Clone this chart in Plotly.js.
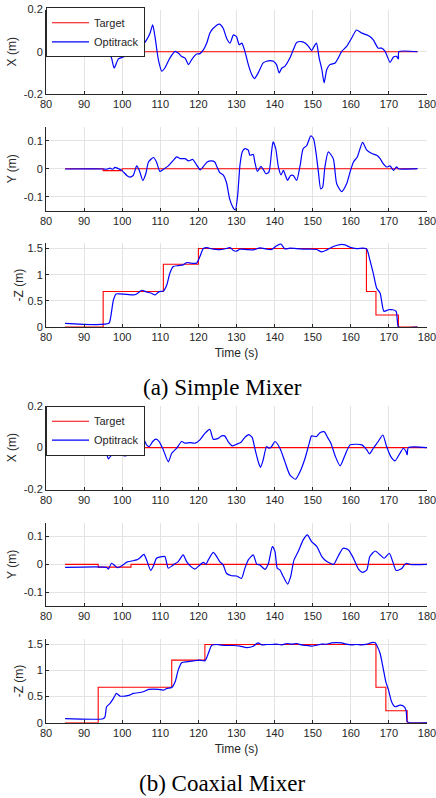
<!DOCTYPE html>
<html>
<head>
<meta charset="utf-8">
<script src="https://cdn.plot.ly/plotly-3.0.1.min.js"></script>
<style>html,body{margin:0;padding:0;background:#fff;}#chart{width:436px;height:798px;}</style>
</head>
<body>
<div id="chart"></div>
<script>
// ---------- (a) Simple Mixer ----------
const tgtXA_t = [85, 95, 100, 177.5];
const tgtXA   = [0, -0.005, 0, 0];
const optXA_t = [85, 95.0, 96.4, 97.2, 97.9, 99.0, 100.3, 101.6, 102.9, 103.6, 104.2, 105.1, 106.4, 107.3, 108.0, 108.6, 109.5, 110.4, 111.2, 112.5, 113.9, 114.7, 115.6, 116.5, 117.4, 118.2, 119.5, 120.4, 121.3, 122.2, 123.0, 123.9, 125.5, 126.5, 127.4, 128.3, 129.2, 130.0, 130.7, 131.4, 132.2, 133.1, 134.0, 134.7, 135.7, 137.0, 137.9, 138.8, 139.7, 140.5, 141.2, 141.9, 142.7, 144.0, 144.9, 145.8, 147.1, 148.0, 148.9, 149.7, 150.6, 151.0, 151.7, 152.4, 153.0, 153.7, 154.5, 155.9, 156.7, 157.6, 158.9, 160.2, 161.5, 162.9, 164.2, 165.0, 165.9, 167.2, 168.1, 169.0, 170.3, 171.2, 172.0, 172.5, 172.6, 177.5];
const optXA   = [-0.002, -0.002, -0.003, -0.030, -0.077, -0.034, -0.025, -0.009, 0.009, 0.025, 0.016, 0.025, 0.056, 0.088, 0.127, 0.072, -0.038, -0.092, -0.077, -0.030, 0.002, -0.006, -0.022, -0.030, -0.061, -0.038, -0.011, -0.009, 0.009, 0.041, 0.088, 0.111, 0.131, 0.111, 0.064, 0.041, 0.080, 0.072, 0.033, 0.041, 0.002, -0.061, -0.108, -0.127, -0.100, -0.053, -0.045, -0.042, -0.045, -0.061, -0.100, -0.077, -0.069, -0.030, 0.009, 0.044, 0.048, 0.041, 0.025, 0.006, 0.033, 0.041, -0.030, -0.084, -0.147, -0.084, -0.061, -0.053, -0.030, 0.002, 0.025, 0.064, 0.103, 0.088, 0.080, 0.072, 0.056, 0.017, 0.017, 0.002, -0.050, -0.025, -0.022, -0.034, 0.000, 0.000];

const tgtYA_t = [85, 95, 100, 177.5];
const tgtYA   = [0, -0.007, 0, 0];
const optYA_t = [85, 95.0, 95.9, 96.8, 97.5, 98.1, 99.0, 99.9, 101.2, 102.0, 102.9, 103.8, 104.5, 105.4, 106.2, 106.9, 108.2, 109.0, 109.9, 110.8, 112.1, 113.4, 114.3, 115.2, 116.5, 117.4, 118.5, 119.5, 120.5, 121.2, 122.3, 123.4, 124.3, 124.9, 125.6, 126.5, 127.4, 128.2, 129.1, 129.7, 130.3, 130.9, 131.5, 132.2, 133.1, 133.5, 134.4, 134.8, 135.5, 136.4, 137.0, 137.7, 138.5, 139.2, 139.6, 140.3, 141.0, 141.7, 142.3, 143.0, 143.4, 144.2, 144.9, 145.8, 146.7, 147.5, 148.4, 149.5, 150.2, 150.9, 151.5, 152.1, 152.6, 153.2, 154.1, 155.4, 156.3, 157.6, 158.9, 159.8, 160.7, 161.7, 163.1, 164.2, 165.5, 166.8, 167.7, 168.5, 169.4, 170.3, 171.2, 172.0, 172.5, 177.5];
const optYA   = [-0.001, -0.001, -0.002, 0.002, -0.002, 0.005, 0.000, -0.006, -0.024, -0.030, -0.024, 0.010, -0.006, -0.042, -0.018, 0.024, 0.040, 0.024, -0.010, -0.002, 0.010, 0.030, 0.042, 0.036, 0.036, 0.028, 0.033, 0.014, -0.004, 0.006, 0.024, 0.028, 0.024, 0.006, -0.014, -0.022, -0.051, -0.108, -0.139, -0.148, -0.096, 0.012, 0.060, 0.072, 0.066, 0.048, 0.051, 0.024, -0.010, 0.008, -0.002, -0.018, -0.012, 0.060, 0.096, 0.072, 0.006, -0.022, -0.006, -0.030, -0.042, -0.024, -0.024, -0.042, 0.012, 0.072, 0.082, 0.117, 0.108, 0.054, -0.012, -0.072, -0.066, 0.006, 0.060, 0.036, -0.054, -0.082, -0.054, -0.012, 0.024, 0.042, 0.094, 0.066, 0.054, 0.048, 0.036, 0.018, 0.006, 0.010, -0.006, 0.007, 0.000, 0.000];

const tgtZA_t = [85, 95, 110.8, 120, 164.1, 166.6, 172.5, 177.5];
const tgtZA   = [0, 0.68, 1.2, 1.5, 0.68, 0.23, 0, 0];
const optZA_t = [85, 96.5, 97.0, 97.7, 98.4, 99.4, 101.2, 102.9, 103.8, 105.1, 106.4, 107.7, 108.6, 109.7, 110.8, 111.7, 112.5, 113.4, 114.7, 116.0, 116.9, 118.2, 119.5, 120.4, 121.3, 122.2, 123.9, 125.7, 127.4, 128.3, 129.2, 130.0, 130.9, 132.7, 134.4, 136.2, 137.9, 139.2, 140.5, 141.6, 142.7, 144.0, 146.7, 149.3, 151.0, 152.4, 153.7, 155.4, 157.2, 158.5, 159.8, 161.5, 163.3, 164.2, 165.0, 165.9, 166.8, 167.7, 168.7, 169.9, 171.0, 171.9, 172.2, 172.5, 177.5];
const optZA   = [0.07, 0.07, 0.2, 0.517, 0.632, 0.632, 0.625, 0.613, 0.632, 0.702, 0.670, 0.645, 0.613, 0.676, 0.689, 0.804, 1.027, 1.155, 1.174, 1.187, 1.232, 1.219, 1.219, 1.347, 1.500, 1.519, 1.487, 1.481, 1.500, 1.519, 1.461, 1.449, 1.487, 1.481, 1.474, 1.512, 1.487, 1.481, 1.551, 1.589, 1.493, 1.506, 1.493, 1.487, 1.481, 1.436, 1.474, 1.538, 1.576, 1.570, 1.525, 1.500, 1.506, 1.487, 1.283, 1.027, 0.740, 0.645, 0.30, 0.33, 0.33, 0.30, 0.13, 0, 0];

// ---------- (b) Coaxial Mixer ----------
const tgtXB_t = [85, 93.7, 102.0, 180];
const tgtXB   = [0, -0.008, 0, 0];
const optXB_t = [85, 94.2, 95.0, 95.7, 96.4, 97.2, 98.1, 99.0, 99.9, 100.7, 101.6, 102.3, 102.9, 103.8, 104.7, 105.7, 106.4, 107.1, 108.0, 108.9, 109.7, 110.8, 112.1, 113.0, 114.3, 115.6, 116.5, 117.8, 119.1, 120.4, 121.7, 123.0, 123.9, 125.2, 126.1, 126.9, 127.8, 128.9, 130.0, 131.1, 132.2, 133.2, 134.1, 134.8, 135.7, 136.3, 137.0, 137.9, 138.6, 139.2, 140.1, 141.4, 142.7, 144.0, 145.5, 146.7, 148.0, 149.1, 149.7, 150.9, 151.9, 153.0, 153.9, 154.8, 155.9, 157.2, 158.5, 159.8, 161.5, 162.9, 164.2, 164.9, 165.9, 167.2, 168.4, 169.4, 170.5, 171.6, 172.9, 173.8, 174.5, 174.8, 175.1, 180];
const optXB   = [-0.003, -0.005, -0.008, -0.019, -0.054, -0.035, -0.027, -0.021, -0.035, -0.040, -0.035, -0.024, -0.003, 0.016, 0.024, 0.037, 0.013, 0.005, 0.029, 0.040, 0.029, -0.011, -0.068, -0.027, -0.003, 0.029, 0.021, 0.024, 0.021, 0.037, 0.068, 0.087, 0.040, 0.044, 0.056, 0.056, 0.029, 0.008, 0.016, 0.024, 0.049, 0.062, 0.049, -0.003, -0.067, -0.094, -0.059, 0.005, -0.003, 0.005, 0.029, -0.003, -0.067, -0.130, -0.151, -0.114, -0.051, 0.021, 0.056, 0.052, 0.071, 0.076, 0.049, 0.020, -0.040, -0.087, -0.035, 0.013, 0.016, 0.013, -0.011, -0.030, -0.003, 0.029, 0.060, 0.005, -0.043, -0.063, -0.027, -0.003, -0.019, -0.035, 0.000, 0.000];

const tgtYB_t = [85, 93.7, 102.3, 180];
const tgtYB   = [0, -0.01, 0, 0];
const optYB_t = [85, 95.9, 96.4, 97.2, 98.1, 98.7, 99.9, 101.2, 102.5, 103.8, 104.7, 105.7, 106.4, 107.5, 108.3, 109.0, 110.4, 111.2, 112.1, 113.4, 114.7, 116.0, 116.9, 118.2, 119.1, 120.4, 121.3, 122.0, 122.6, 123.9, 124.8, 125.6, 126.5, 127.4, 128.7, 130.0, 131.3, 132.2, 133.1, 134.4, 135.3, 136.1, 137.5, 138.4, 139.4, 140.1, 140.7, 141.4, 142.1, 143.4, 144.2, 145.1, 146.2, 147.5, 148.6, 149.7, 151.1, 152.4, 153.7, 154.6, 155.5, 156.7, 158.0, 159.4, 160.7, 162.0, 163.1, 164.2, 165.0, 166.4, 167.7, 168.8, 170.1, 171.0, 171.9, 173.3, 174.2, 174.7, 175.5, 180];
const optYB   = [-0.011, -0.011, -0.017, 0.004, -0.005, -0.012, -0.005, 0.008, 0.012, 0.016, 0.024, 0.036, 0.016, -0.022, -0.002, 0.022, 0.028, 0.028, -0.014, -0.002, 0.010, 0.034, 0.010, -0.010, -0.017, -0.002, 0.007, 0.000, 0.016, 0.043, 0.028, 0.010, -0.002, -0.033, -0.041, -0.042, -0.051, -0.014, 0.016, 0.034, 0.001, -0.002, -0.018, 0.004, 0.064, 0.046, -0.014, -0.020, -0.039, -0.071, -0.045, 0.016, 0.046, 0.088, 0.106, 0.082, 0.064, 0.028, 0.010, 0.004, 0.000, 0.030, 0.058, 0.052, 0.022, -0.017, -0.029, -0.020, 0.028, 0.048, 0.034, 0.022, 0.040, 0.010, -0.022, -0.016, 0.000, 0.004, 0.000, 0.000];

const tgtZB_t = [85, 93.7, 113.0, 121.7, 166.6, 169.2, 174.8, 180];
const tgtZB   = [0, 0.68, 1.2, 1.5, 0.68, 0.23, 0, 0];
const optZB_t = [85, 95.0, 95.5, 95.9, 96.8, 97.7, 98.5, 99.4, 100.7, 102.0, 102.9, 104.2, 105.5, 106.9, 108.2, 109.5, 110.8, 111.7, 113.0, 113.9, 114.7, 115.6, 116.9, 118.7, 120.4, 121.7, 122.6, 123.5, 124.8, 126.1, 127.4, 129.2, 130.9, 132.7, 134.4, 135.3, 135.7, 136.6, 137.9, 139.2, 140.5, 141.9, 143.2, 144.5, 145.8, 147.1, 148.4, 149.7, 151.0, 152.4, 153.7, 155.0, 156.3, 157.6, 158.9, 160.2, 161.5, 162.9, 164.2, 165.5, 166.4, 166.8, 167.7, 168.5, 169.2, 169.9, 170.7, 171.6, 172.9, 173.8, 174.5, 174.8, 175.4, 180];
const optZB   = [0.077, 0.077, 0.115, 0.306, 0.370, 0.466, 0.562, 0.511, 0.511, 0.530, 0.562, 0.574, 0.593, 0.638, 0.645, 0.638, 0.625, 0.657, 0.676, 0.785, 1.008, 1.149, 1.168, 1.187, 1.200, 1.187, 1.327, 1.487, 1.500, 1.487, 1.481, 1.481, 1.468, 1.442, 1.468, 1.519, 1.532, 1.493, 1.500, 1.500, 1.506, 1.493, 1.519, 1.506, 1.519, 1.493, 1.481, 1.468, 1.487, 1.506, 1.506, 1.532, 1.538, 1.532, 1.506, 1.493, 1.500, 1.493, 1.506, 1.538, 1.532, 1.487, 1.327, 1.040, 0.785, 0.625, 0.402, 0.306, 0.338, 0.319, 0.242, 0.019, 0.000, 0.000];

// ---------- labels / ticks ----------
const seriesNames = ['Target', 'Optitrack'];
const yTitles = ['X (m)', 'Y (m)', '-Z (m)', 'X (m)', 'Y (m)', '-Z (m)'];
const xTitle = 'Time (s)';
const captions = ['(a) Simple Mixer', '(b) Coaxial Mixer'];
const xTickVals = [80, 90, 100, 110, 120, 130, 140, 150, 160, 170, 180];
const xyTickVals = [-0.2, 0, 0.2];
const xyTickText = ['-0.2', '0', '0.2'];
const yyTickVals = [-0.1, 0, 0.1];
const yyTickText = ['-0.1', '0', '0.1'];
const zTickVals = [0, 0.5, 1, 1.5];
const zTickText = ['0', '0.5', '1', '1.5'];

// ---------- build ----------
const RED = '#ff0000', BLUE = '#0000ff';
const panels = [
  {tt: tgtXA_t, tv: tgtXA, ot: optXA_t, ov: optXA, leg: 'legend'},
  {tt: tgtYA_t, tv: tgtYA, ot: optYA_t, ov: optYA},
  {tt: tgtZA_t, tv: tgtZA, ot: optZA_t, ov: optZA},
  {tt: tgtXB_t, tv: tgtXB, ot: optXB_t, ov: optXB, leg: 'legend2'},
  {tt: tgtYB_t, tv: tgtYB, ot: optYB_t, ov: optYB},
  {tt: tgtZB_t, tv: tgtZB, ot: optZB_t, ov: optZB}
];
const traces = [];
panels.forEach((p, i) => {
  const sfx = i === 0 ? '' : String(i + 1);
  const show = !!p.leg;
  traces.push({x: p.tt, y: p.tv, type: 'scatter', mode: 'lines', name: seriesNames[0],
    line: {color: RED, width: 1.1, shape: 'hv'}, xaxis: 'x' + sfx, yaxis: 'y' + sfx,
    showlegend: show, legend: p.leg || 'legend', hoverinfo: 'skip'});
  traces.push({x: p.ot, y: p.ov, type: 'scatter', mode: 'lines', name: seriesNames[1],
    line: {color: BLUE, width: 1.2, shape: 'spline', smoothing: 0.6}, xaxis: 'x' + sfx, yaxis: 'y' + sfx,
    showlegend: show, legend: p.leg || 'legend', hoverinfo: 'skip'});
});

const H = 798;
const pix = (top, bottom) => [1 - bottom / H, 1 - top / H];
const yDomains = [pix(9.5, 94), pix(126.7, 210.7), pix(243.3, 327), pix(405.7, 489.5), pix(522.7, 606), pix(639.3, 722.7)];
const tickFont = {family: 'Liberation Sans, Arial, sans-serif', size: 11, color: '#262626'};
const titleFont = {family: 'Liberation Sans, Arial, sans-serif', size: 12, color: '#262626'};
const axisBase = {
  showline: true, linecolor: '#262626', linewidth: 1, mirror: false,
  ticks: 'inside', ticklen: 3, tickwidth: 1, tickcolor: '#262626',
  showgrid: true, gridcolor: '#e3e3e3', gridwidth: 1, zeroline: false,
  tickfont: tickFont, fixedrange: true, ticklabeloverflow: 'allow'
};
const legendBase = {x: 0, xanchor: 'left', yanchor: 'top', bgcolor: '#ffffff',
  bordercolor: '#262626', borderwidth: 1, itemwidth: 37,
  font: {family: 'Liberation Sans, Arial, sans-serif', size: 11, color: '#262626'}, tracegroupgap: 0};
const layout = {
  width: 436, height: 798,
  margin: {l: 46, r: 9, t: 0, b: 0},
  paper_bgcolor: '#ffffff', plot_bgcolor: '#ffffff',
  font: {family: 'Liberation Sans, Arial, sans-serif', size: 11, color: '#262626'},
  legend: Object.assign({}, legendBase, {y: 1 - 7.3 / H}),
  legend2: Object.assign({}, legendBase, {y: 1 - 405.7 / H}),
  annotations: [
    {text: captions[0], xref: 'paper', yref: 'paper', x: (222 - 46) / 381, y: 1 - 387 / H,
      xanchor: 'center', yanchor: 'middle', showarrow: false,
      font: {family: 'Liberation Serif, Times New Roman, serif', size: 23, color: '#000'}},
    {text: captions[1], xref: 'paper', yref: 'paper', x: (222 - 46) / 381, y: 1 - 783 / H,
      xanchor: 'center', yanchor: 'middle', showarrow: false,
      font: {family: 'Liberation Serif, Times New Roman, serif', size: 23, color: '#000'}}
  ]
};
const yRanges = [[-0.2, 0.2], [-0.15, 0.15], [0, 1.6], [-0.2, 0.2], [-0.15, 0.15], [0, 1.6]];
const yTV = [xyTickVals, yyTickVals, zTickVals, xyTickVals, yyTickVals, zTickVals];
const yTT = [xyTickText, yyTickText, zTickText, xyTickText, yyTickText, zTickText];
const yStandoff = [4, 4, 1, 4, 4, 1];
for (let i = 0; i < 6; i++) {
  const sfx = i === 0 ? '' : String(i + 1);
  layout['xaxis' + sfx] = Object.assign({}, axisBase, {
    domain: [0, 1], range: [80, 180], anchor: 'y' + sfx,
    tickmode: 'array', tickvals: xTickVals, ticktext: xTickVals.map(String),
    title: (i === 2 || i === 5) ? {text: xTitle, font: titleFont, standoff: 6} : {text: ''}
  });
  layout['yaxis' + sfx] = Object.assign({}, axisBase, {
    domain: yDomains[i], range: yRanges[i], anchor: 'x' + sfx,
    tickmode: 'array', tickvals: yTV[i], ticktext: yTT[i],
    title: {text: yTitles[i], font: titleFont, standoff: yStandoff[i]}
  });
}
Plotly.newPlot('chart', traces, layout, {staticPlot: true, displayModeBar: false});
</script>
</body>
</html>
